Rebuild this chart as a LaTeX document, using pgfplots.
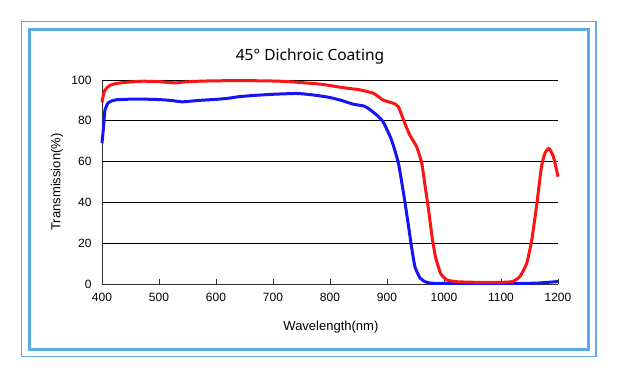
\documentclass[border=0pt]{standalone}
\usepackage{pgfplots}
\pgfplotsset{compat=1.18}
\usepackage{fontspec}
\setmainfont{Liberation Sans}
\newfontfamily\titlefont{Noto Sans}
\definecolor{frameblue}{RGB}{93,169,233}
\definecolor{cred}{RGB}{250,20,20}
\definecolor{cblue}{RGB}{20,20,245}
\begin{document}
\begin{tikzpicture}[x=1pt,y=1pt]
\path[use as bounding box] (0,0) rectangle (618,379);
\fill[white] (0,0) rectangle (618,379);
\draw[frameblue, line width=1.5pt] (21.7,22.3) rectangle (596,357.3);
\draw[frameblue, line width=3.5pt] (29.4,29.5) rectangle (588.5,349.6);
\node[font=\titlefont\fontsize{15.5}{18}\selectfont] at (310,323) {45° Dichroic Coating};
\begin{axis}[
  at={(102pt,95pt)}, anchor=south west,
  scale only axis, width=456pt, height=204pt,
  xmin=400, xmax=1200, ymin=0, ymax=100,
  xtick={400,500,...,1200}, ytick={0,20,...,100},
  axis x line*=bottom, axis y line*=left,
  axis line style={draw=black!80, line width=0.9pt},
  ymajorgrids, grid style={black, line width=0.8pt},
  tick align=inside, major tick length=5pt,
  xtick style={draw=black!80, line width=0.8pt},
  ytick style={draw=none},
  /pgf/number format/assume math mode=true,
  /pgf/number format/set thousands separator={},
  ticklabel style={font=\fontsize{12}{14}\selectfont},
  xticklabel style={yshift=-6pt},
  yticklabel style={xshift=-7pt},
  xlabel={Wavelength(nm)}, ylabel={Transmission(\%)},
  every axis x label/.style={at={(rel axis cs:0.502,0)}, yshift=-43pt, anchor=center, font=\fontsize{13}{15}\selectfont},
  every axis y label/.style={at={(rel axis cs:0,0.5)}, xshift=-45pt, rotate=90, anchor=center, font=\fontsize{13}{15}\selectfont},
  clip=false,
]
\addplot[cblue, line width=3pt, line join=round, smooth, tension=0.3] coordinates {
(400,69) (403,78) (405,85) (410,88.5) (415,89.5) (425,90.3) (450,90.6) (475,90.6)
(500,90.4) (520,90.0) (540,89.3) (555,89.6) (570,90.0) (600,90.5) (620,91.0)
(640,91.8) (660,92.3) (700,93.0) (740,93.4) (760,93.0) (780,92.3) (800,91.4)
(820,90.0) (840,88.2) (860,87.2) (870,85.5) (882,82.8) (893,79.6) (908,70.6)
(920,59.2) (929,44.5) (937,29.8) (943,18.3) (949,8.5) (958,2.9) (967,1.1)
(975,0.5) (990,0.3) (1100,0.3) (1160,0.4) (1200,1.2)
};
\addplot[cred, line width=3pt, line join=round, smooth, tension=0.3] coordinates {
(400,89) (402,92) (405,95) (410,96.5) (415,97.5) (425,98.3) (440,98.8) (470,99.4)
(500,99.2) (515,98.8) (530,98.6) (545,99.0) (570,99.4) (600,99.6) (650,99.7)
(700,99.5) (720,99.3) (742,98.9) (760,98.5) (782,98.0) (800,97.3) (812,96.7)
(832,95.9) (850,95.3) (876,93.5) (893,90.2) (911,88.6) (920,86.9) (929,80.4)
(940,73) (952,67.3) (961,59.2) (967,47.7) (973,36.3) (979,23.2) (985,13.4)
(994,5.2) (1005,2) (1023,1.1) (1060,0.8) (1100,0.8) (1120,1.2) (1133,3.6)
(1145,10) (1154,21.6) (1163,39.5) (1171,57.5) (1177,64) (1184,66.5) (1192,62.4)
(1200,52.6)
};
\end{axis}
\end{tikzpicture}
\end{document}
